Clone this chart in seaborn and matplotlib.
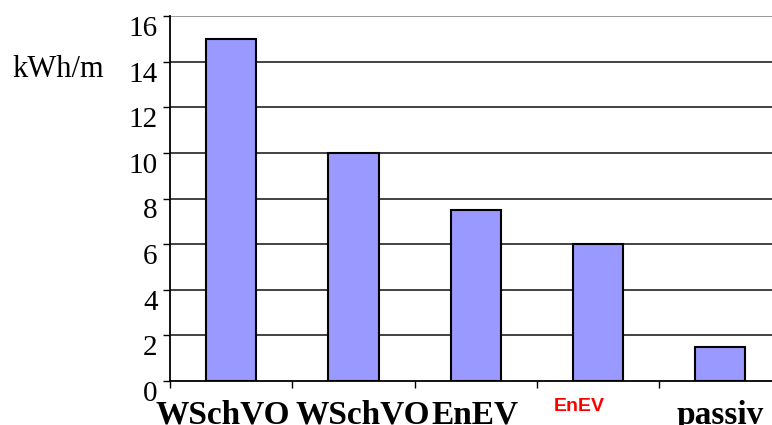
import numpy as np
import pandas as pd
import matplotlib.pyplot as plt
import matplotlib.transforms as mtransforms
import seaborn as sns
from matplotlib.ticker import FixedLocator

# data
labels = ["WSchVO", "WSchVO", "EnEV", "EnEV", "passiv"]
values = [15, 10, 7.5, 6, 1.5]
yticks = [0, 2, 4, 6, 8, 10, 12, 14, 16]
unit = "kWh/m"

df = pd.DataFrame({"pos": range(len(values)), "value": values})

sns.set_style("white")
plt.rcParams["font.family"] = ["Liberation Serif", "DejaVu Serif"]
plt.rcParams["text.color"] = "black"
plt.rcParams["xtick.color"] = "black"
plt.rcParams["ytick.color"] = "black"

fig = plt.figure(figsize=(7.72, 4.25), dpi=100)
ax = fig.add_axes([170 / 772, 44 / 425, 611.5 / 772, 365 / 425])

sns.barplot(data=df, x="pos", y="value", ax=ax, color="#9999ff",
            saturation=1, width=0.41, edgecolor="black", linewidth=1.5)

ax.set_xlim(-0.5, 4.5)
ax.set_ylim(0, 16)
ax.set_xlabel("")
ax.set_ylabel("")

# horizontal grid lines
for v in yticks[1:]:
    ax.axhline(v, color="#888888" if v == 16 else "#222222", lw=1.2, zorder=0)

for s in ["top", "right"]:
    ax.spines[s].set_visible(False)
for s in ["left", "bottom"]:
    ax.spines[s].set_color("black")
    ax.spines[s].set_linewidth(1.3)

# y ticks, labels hang below their tick
ax.set_yticks(yticks)
ax.set_yticklabels([str(t) for t in yticks], fontsize=21, va="top")
ax.tick_params(axis="y", direction="out", length=5, width=1, pad=4, left=True)

# x: ticks at category boundaries
ax.xaxis.set_major_locator(FixedLocator(np.arange(-0.5, 5.0, 1.0)))
ax.set_xticklabels([])
ax.tick_params(axis="x", which="major", direction="out", length=5, width=1, bottom=True)

# category labels, slightly shifted like in the original
label_x = [-0.07, 1.08, 1.99, 2.85, 4.0]
trans = mtransforms.blended_transform_factory(ax.transData, ax.transAxes)
for i, (lab, xx) in enumerate(zip(labels, label_x)):
    if i == 3:
        ax.text(xx, -0.047, lab, transform=trans, ha="center", va="top",
                fontsize=14, fontweight="bold", color="#ff0000",
                family=["Liberation Sans", "DejaVu Sans"])
    else:
        ax.text(xx, -0.052, lab, transform=trans, ha="center", va="top",
                fontsize=24, fontweight="bold", color="black")

fig.text(12 / 772, 1 - 55 / 425, unit, fontsize=22, va="top", ha="left")

fig.savefig("out.png", dpi=100)
